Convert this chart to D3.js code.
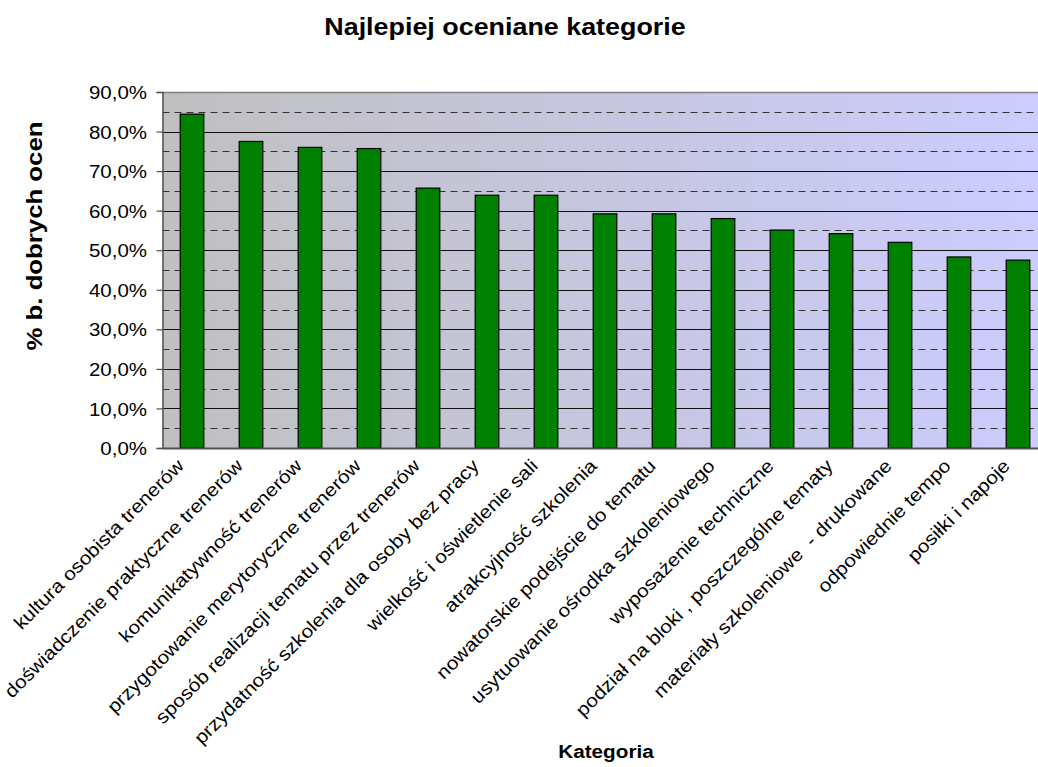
<!DOCTYPE html>
<html>
<head>
<meta charset="utf-8">
<script src="https://cdn.jsdelivr.net/npm/d3@7"></script>
<style>
  html, body { margin: 0; padding: 0; background: #ffffff; }
  svg { display: block; font-family: "Liberation Sans", Arial, sans-serif; }
  text { white-space: pre; }
</style>
</head>
<body>
<svg id="chart" width="1038" height="767"></svg>
<script>
const chartTitle = "Najlepiej oceniane kategorie";
const yAxisTitle = "% b. dobrych ocen";
const xAxisTitle = "Kategoria";

const categories = [
  "kultura osobista trenerów",
  "doświadczenie praktyczne trenerów",
  "komunikatywność trenerów",
  "przygotowanie merytoryczne trenerów",
  "sposób realizacji tematu przez trenerów",
  "przydatność szkolenia dla osoby bez pracy",
  "wielkość i oświetlenie sali",
  "atrakcyjność szkolenia",
  "nowatorskie podejście do tematu",
  "usytuowanie ośrodka szkoleniowego",
  "wyposażenie techniczne",
  "podział na bloki , poszczególne tematy",
  "materiały szkoleniowe  - drukowane",
  "odpowiednie tempo",
  "posiłki i napoje"
];
const values = [84.4, 77.5, 76.0, 75.7, 65.7, 63.9, 63.9, 59.2, 59.2, 58.0, 55.1, 54.2, 52.0, 48.3, 47.5];

const yTicks = [0, 10, 20, 30, 40, 50, 60, 70, 80, 90];
const yTickLabels = ["0,0%", "10,0%", "20,0%", "30,0%", "40,0%", "50,0%", "60,0%", "70,0%", "80,0%", "90,0%"];
const yMinorGrid = [5, 15, 25, 35, 45, 55, 65, 75, 85];

const svg = d3.select("#chart");
const plot = { left: 162.5, right: 1047.5, top: 92, bottom: 448 };
const stretch = 1.12;

const x = d3.scaleBand().domain(categories).range([plot.left, plot.right]).paddingInner(0).paddingOuter(0);
const y = d3.scaleLinear().domain([0, 90]).range([plot.bottom, plot.top]);
const barW = x.bandwidth() / 2.5;

// background gradient
const defs = svg.append("defs");
const grad = defs.append("linearGradient").attr("id", "bg").attr("x1", "0%").attr("x2", "100%").attr("y1", "0%").attr("y2", "0%");
grad.append("stop").attr("offset", "0%").attr("stop-color", "#c0c0c0");
grad.append("stop").attr("offset", "100%").attr("stop-color", "#ccccff");

svg.append("rect")
  .attr("x", plot.left).attr("y", plot.top)
  .attr("width", plot.right - plot.left).attr("height", plot.bottom - plot.top)
  .attr("fill", "url(#bg)");

// minor dashed grid
svg.append("g").selectAll("line").data(yMinorGrid).join("line")
  .attr("x1", plot.left).attr("x2", plot.right)
  .attr("y1", d => Math.round(y(d)) + 0.5).attr("y2", d => Math.round(y(d)) + 0.5)
  .attr("stroke", "#333").attr("stroke-width", 1.2).attr("stroke-dasharray", "7,5");

// major grid
svg.append("g").selectAll("line").data(yTicks.filter(d => d > 0)).join("line")
  .attr("x1", plot.left).attr("x2", plot.right)
  .attr("y1", d => Math.round(y(d)) + 0.5).attr("y2", d => Math.round(y(d)) + 0.5)
  .attr("stroke", "#111").attr("stroke-width", 1);

// top border
svg.append("line")
  .attr("x1", plot.left).attr("x2", plot.right)
  .attr("y1", plot.top + 0.5).attr("y2", plot.top + 0.5)
  .attr("stroke", "#808080").attr("stroke-width", 1.5);

// bars
svg.append("g").selectAll("rect").data(values).join("rect")
  .attr("x", (d, i) => x(categories[i]) + x.bandwidth() / 2 - barW / 2)
  .attr("y", d => y(d))
  .attr("width", barW)
  .attr("height", d => y(0) - y(d))
  .attr("fill", "#008000")
  .attr("stroke", "#000").attr("stroke-width", 1.2);

// y axis
const yAxis = d3.axisLeft(y).tickValues(yTicks).tickSize(6).tickPadding(0)
  .tickFormat((d, i) => yTickLabels[i]);
const yg = svg.append("g").attr("transform", `translate(${plot.left},0)`).call(yAxis);
yg.select(".domain").attr("stroke", "#505050").attr("stroke-width", 1.5);
yg.selectAll(".tick line").attr("stroke", "#505050").attr("stroke-width", 1.2);
yg.selectAll(".tick text")
  .attr("x", null).attr("dy", "0.36em")
  .attr("transform", `translate(-15.5,0) scale(${stretch},1)`)
  .attr("font-size", 18.3).attr("fill", "#000")
  .attr("font-family", "Liberation Sans, Arial, sans-serif");

// x axis line
const xAxis = d3.axisBottom(x).tickSize(0).tickFormat("");
const xg = svg.append("g").attr("transform", `translate(0,${plot.bottom})`).call(xAxis);
xg.select(".domain").attr("stroke", "#505050").attr("stroke-width", 2);

// category labels
svg.append("g").selectAll("text").data(categories).join("text")
  .attr("transform", d => `translate(${x(d) + x.bandwidth() / 2 - 7},${plot.bottom + 19}) rotate(-45) scale(${stretch},1)`)
  .attr("text-anchor", "end")
  .attr("font-size", 18.5)
  .attr("fill", "#000")
  .text(d => d);

// titles
svg.append("text")
  .attr("transform", `translate(505,35) scale(${stretch},1)`)
  .attr("text-anchor", "middle").attr("font-weight", "bold").attr("font-size", 24)
  .text(chartTitle);

svg.append("text")
  .attr("transform", `translate(42,236) rotate(-90) scale(${stretch},1)`)
  .attr("text-anchor", "middle").attr("font-weight", "bold").attr("font-size", 23)
  .text(yAxisTitle);

svg.append("text")
  .attr("transform", `translate(606,758) scale(${stretch},1)`)
  .attr("text-anchor", "middle").attr("font-weight", "bold").attr("font-size", 18.5)
  .text(xAxisTitle);
</script>
</body>
</html>
